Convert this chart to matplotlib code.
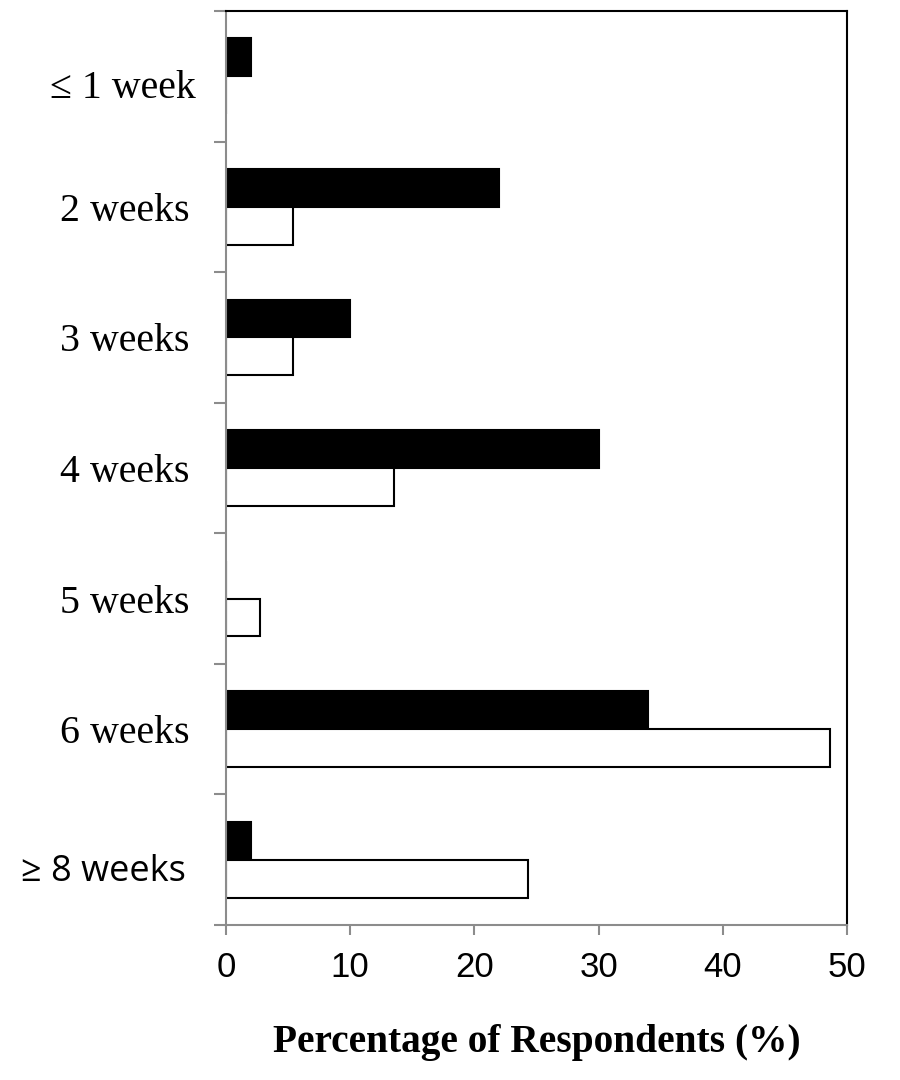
import matplotlib
matplotlib.use("Agg")
import matplotlib.pyplot as plt
import matplotlib.transforms as mtransforms
import numpy as np

categories = ["≤ 1 week", "2 weeks", "3 weeks", "4 weeks", "5 weeks", "6 weeks", "≥ 8 weeks"]
series_black = [2.0, 22.0, 10.0, 30.0, 0.0, 34.0, 2.0]
series_white = [0.0, 5.4, 5.4, 13.5, 2.7, 48.6, 24.3]
xticks = [0, 10, 20, 30, 40, 50]
xlabel = "Percentage of Respondents (%)"

fig = plt.figure(figsize=(9, 10.8), dpi=100)
ax = fig.add_axes([226/900, 1-925/1080, (847-226)/900, (925-11)/1080])

y = np.arange(len(categories))
h = 0.29
ax.barh(y - h/2, series_black, height=h, color="black", edgecolor="black", linewidth=1.5)
ax.barh(y + h/2, series_white, height=h, color="white", edgecolor="black", linewidth=1.5)

ax.set_xlim(0, 50)
ax.set_ylim(len(categories) - 0.5, -0.5)

ax.set_xticks(xticks)
ax.set_xticklabels([str(t) for t in xticks], fontfamily="Liberation Sans", fontsize=25)
ax.tick_params(axis="x", direction="out", length=7.5, width=1.5, color="#8c8c8c", pad=11)

ax.set_yticks(y)
ax.set_yticklabels(categories, fontfamily="Liberation Serif", fontsize=28.7)
ax.tick_params(axis="y", which="major", length=0, pad=26)
ax.set_yticks(np.arange(-0.5, len(categories)), minor=True)
ax.tick_params(axis="y", which="minor", direction="out", length=8.5, width=1.5, color="#8c8c8c")
labels = ax.get_yticklabels()
labels[-1].set_fontfamily("Open Sans")
labels[-1].set_fontsize(26)
labels[-1].set_transform(labels[-1].get_transform() + mtransforms.Affine2D().translate(-4, -8))
labels[0].set_transform(labels[0].get_transform() + mtransforms.Affine2D().translate(6, -8))

for s in ["left", "bottom"]:
    ax.spines[s].set_color("#8c8c8c")
    ax.spines[s].set_linewidth(1.5)
for s in ["top", "right"]:
    ax.spines[s].set_color("black")
    ax.spines[s].set_linewidth(1.5)

ax.set_xlabel(xlabel, fontfamily="Liberation Serif", fontweight="bold", fontsize=28.4, labelpad=29)

fig.savefig("out.png", dpi=100, facecolor="white")
